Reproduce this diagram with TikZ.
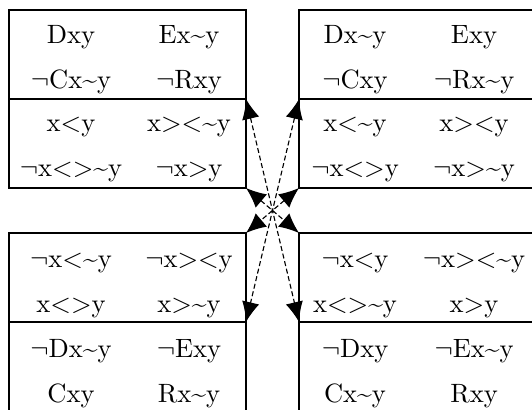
\documentclass[tikz,border=0pt]{standalone}
\usepackage{amsmath}
\usepackage{tikz}
\usetikzlibrary{positioning, arrows.meta}

\newcommand{\negsym}{$\neg$}
\newcommand{\tilsym}{\textasciitilde}

\tikzset{
  cell/.style={anchor=base, inner sep=0pt, font=\fontsize{10.6}{12}\selectfont},
  frame/.style={draw, line width=1pt},
  link/.style={{Latex[length=8pt, width=7pt]}-{Latex[length=8pt, width=7pt]},
    line width=0.45pt, dash pattern=on 2pt off 1.1pt}
}

\begin{document}
\begin{tikzpicture}[x=0.4pt, y=-0.4pt]
      \useasboundingbox (0,0) rectangle (532,410);
      \clip (0,0) rectangle (532,410);

      % the four boxes, cut at the page edge
      \path[frame] (9,10) rectangle (246,188);
      \path[frame] (9,99) -- (246,99);
      \path[frame] (299,10) rectangle (540,188);
      \path[frame] (299,99) -- (540,99);
      \path[frame] (9,233) rectangle (246,420);
      \path[frame] (9,322) -- (246,322);
      \path[frame] (299,233) rectangle (540,420);
      \path[frame] (299,322) -- (540,322);

      \coordinate (tlmid) at (246,99);
      \coordinate (tlbot) at (246,188);
      \coordinate (trmid) at (299,99);
      \coordinate (trbot) at (299,188);
      \coordinate (bltop) at (246,233);
      \coordinate (blmid) at (246,322);
      \coordinate (brtop) at (299,233);
      \coordinate (brmid) at (299,322);

      % top left
      \node[cell] (tl11) at (71,44) {Dxy};
      \node[cell] (tl12) at (189,44) {Ex\tilsym y};
      \node[cell] (tl21) at (71,89) {\negsym Cx\tilsym y};
      \node[cell] (tl22) at (189,89) {\negsym Rxy};
      \node[cell] (tl31) at (71,132) {x<y};
      \node[cell] (tl32) at (189,132) {x><\tilsym y};
      \node[cell] (tl41) at (71,177) {\negsym x<>\tilsym y};
      \node[cell] (tl42) at (189,177) {\negsym x>y};

      % top right
      \node[cell] (tr11) at (355,44) {Dx\tilsym y};
      \node[cell] (tr12) at (474,44) {Exy};
      \node[cell] (tr21) at (355,89) {\negsym Cxy};
      \node[cell] (tr22) at (474,89) {\negsym Rx\tilsym y};
      \node[cell] (tr31) at (355,132) {x<\tilsym y};
      \node[cell] (tr32) at (474,132) {x><y};
      \node[cell] (tr41) at (355,177) {\negsym x<>y};
      \node[cell] (tr42) at (474,177) {\negsym x>\tilsym y};

      % bottom left
      \node[cell] (bl11) at (71,268) {\negsym x<\tilsym y};
      \node[cell] (bl12) at (189,268) {\negsym x><y};
      \node[cell] (bl21) at (71,313) {x<>y};
      \node[cell] (bl22) at (189,313) {x>\tilsym y};
      \node[cell] (bl31) at (71,358) {\negsym Dx\tilsym y};
      \node[cell] (bl32) at (189,358) {\negsym Exy};
      \node[cell] (bl41) at (71,403) {Cxy};
      \node[cell] (bl42) at (189,403) {Rx\tilsym y};

      % bottom right
      \node[cell] (br11) at (355,268) {\negsym x<y};
      \node[cell] (br12) at (474,268) {\negsym x><\tilsym y};
      \node[cell] (br21) at (355,313) {x<>\tilsym y};
      \node[cell] (br22) at (474,313) {x>y};
      \node[cell] (br31) at (355,358) {\negsym Dxy};
      \node[cell] (br32) at (474,358) {\negsym Ex\tilsym y};
      \node[cell] (br41) at (355,403) {Cx\tilsym y};
      \node[cell] (br42) at (474,403) {Rxy};

      \draw[link] (tlmid) -- (brmid);
      \draw[link] (trmid) -- (blmid);
      \draw[link] (tlbot) -- (brtop);
      \draw[link] (trbot) -- (bltop);
    \end{tikzpicture}
\end{document}
